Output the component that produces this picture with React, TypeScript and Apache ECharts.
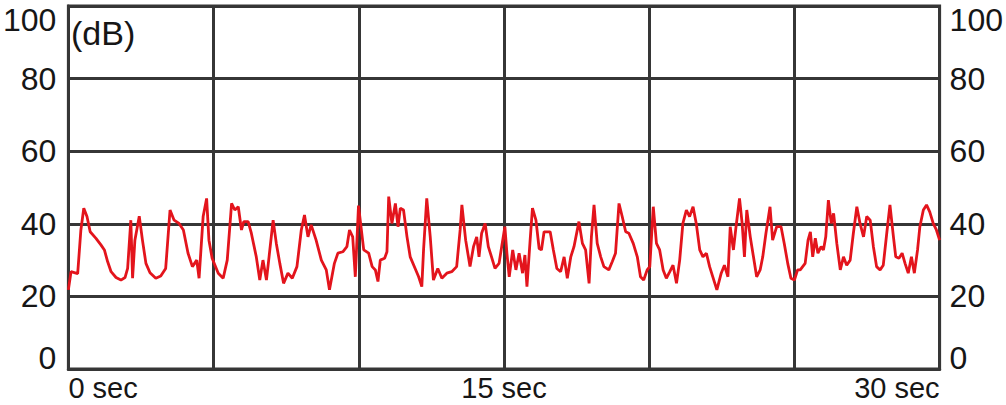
import React, { useEffect, useRef } from "react";
import * as echarts from "echarts";

const timeSec: number[] = [
  0, 0.09, 0.32, 0.43, 0.53, 0.64, 0.75, 0.95, 1.12, 1.24, 1.35, 1.47, 1.64, 1.81, 1.95, 2.04, 2.15, 2.21, 2.29, 2.44,
  2.55, 2.67, 2.81, 3.01, 3.18, 3.35, 3.5, 3.64, 3.81, 3.96, 4.12, 4.27, 4.42, 4.5, 4.64, 4.76, 4.84, 4.95, 5.16, 5.33,
  5.47, 5.62, 5.73, 5.85, 5.96, 6.04, 6.19, 6.3, 6.47, 6.59, 6.7, 6.82, 6.91, 7.05, 7.16, 7.28, 7.41, 7.56, 7.71, 7.87,
  8.02, 8.13, 8.25, 8.36, 8.53, 8.71, 8.88, 8.99, 9.16, 9.28, 9.45, 9.59, 9.68, 9.79, 9.88, 9.99, 10.17, 10.34, 10.46, 10.57,
  10.66, 10.74, 10.89, 10.97, 11.03, 11.14, 11.26, 11.35, 11.43, 11.54, 11.6, 11.66, 11.77, 11.94, 12.06, 12.17, 12.23, 12.34, 12.46, 12.57,
  12.72, 12.86, 13.03, 13.2, 13.37, 13.49, 13.55, 13.68, 13.83, 13.95, 14.06, 14.14, 14.23, 14.35, 14.46, 14.57, 14.69, 14.83, 14.92, 15.03,
  15.1, 15.18, 15.3, 15.41, 15.52, 15.64, 15.72, 15.79, 15.9, 15.98, 16.1, 16.21, 16.29, 16.38, 16.59, 16.7, 16.82, 16.95, 17.07, 17.18,
  17.3, 17.41, 17.58, 17.7, 17.81, 17.93, 18.01, 18.1, 18.21, 18.33, 18.44, 18.61, 18.73, 18.84, 18.96, 19.07, 19.19, 19.3, 19.45, 19.59,
  19.7, 19.81, 19.93, 20.02, 20.14, 20.25, 20.36, 20.48, 20.59, 20.71, 20.82, 20.94, 21.05, 21.16, 21.28, 21.39, 21.51, 21.62, 21.74, 21.85,
  21.97, 22.08, 22.19, 22.33, 22.48, 22.59, 22.71, 22.79, 22.9, 22.99, 23.11, 23.2, 23.28, 23.36, 23.48, 23.59, 23.7, 23.82, 23.91, 24.02,
  24.16, 24.25, 24.39, 24.54, 24.65, 24.77, 24.88, 25.0, 25.11, 25.2, 25.37, 25.47, 25.55, 25.63, 25.72, 25.81, 25.92, 26.0, 26.08, 26.17,
  26.27, 26.35, 26.46, 26.58, 26.69, 26.8, 26.92, 27.03, 27.15, 27.26, 27.38, 27.49, 27.61, 27.72, 27.83, 27.95, 28.06, 28.18, 28.29, 28.41,
  28.49, 28.6, 28.71, 28.81, 28.92, 29.03, 29.13, 29.24, 29.32, 29.44, 29.55, 29.66, 29.78, 29.89, 30.0,
];

const levelDb: number[] = [
  21.8, 26.8, 26.3, 38.3, 44.3, 42, 37.8, 36, 34.2, 32.8, 29.6, 26.8, 25.2, 24.5, 25.2, 27.7, 41, 25, 35.5, 42.1,
  35.5, 29.1, 26.5, 25, 25.6, 27.7, 43.8, 41, 40.1, 38.3, 31.9, 28.2, 30, 25, 42, 47, 35.5, 30.5, 26.4, 25,
  30, 45.6, 43.8, 44.7, 38.3, 40.6, 40.6, 37.4, 30.9, 24.5, 30, 24.5, 30.9, 41, 34.6, 29.1, 23.6, 26.4, 25, 28.2,
  38.3, 42.4, 36.4, 39.7, 35.5, 30, 27.3, 21.8, 29.1, 31.9, 32.3, 33.7, 38.3, 36.4, 25.4, 45, 32.8, 31.9, 28.2, 27.3,
  24.1, 30, 30.5, 32.3, 47.5, 40.1, 45.6, 39.2, 44.3, 43.8, 40.1, 36.4, 30.9, 27.7, 25.4, 22.7, 32.8, 47, 36.4, 24.5,
  27.7, 25, 26.4, 26.8, 28.2, 38.3, 45.2, 35.5, 28.2, 33.7, 36.4, 30.9, 37.4, 40.1, 33.7, 30.9, 27.7, 29.1, 33.7, 39.2,
  31.9, 25.4, 32.8, 27.3, 31.9, 26.4, 31.4, 22.7, 35.5, 44.3, 41, 33.2, 32.8, 37.8, 37.8, 32.8, 27.7, 26.8, 30.9, 25,
  30.9, 33.7, 40.6, 34.6, 32.8, 23.6, 36.4, 45.2, 34.6, 30.9, 28.2, 27.3, 29.6, 31.9, 45.6, 42, 37.8, 37.4, 34.6, 30.9,
  25.4, 24.5, 27.3, 28.2, 44.7, 34.6, 32.8, 27.3, 25, 26.8, 28.6, 23.6, 30, 40.1, 43.8, 42, 44.7, 40.1, 32.8, 30.9,
  31.9, 28.2, 25.4, 21.8, 26.4, 28.6, 25.4, 39.2, 32.8, 39.2, 47, 40.1, 30.9, 43.8, 36.4, 30.9, 25.4, 27.3, 30.9, 37.4,
  44.7, 35.5, 39.2, 39.2, 34.6, 29.1, 25, 24.5, 27.3, 27.3, 29.1, 35.5, 37.8, 30.9, 36, 31.9, 33.7, 32.8, 36.4, 46.5,
  40.1, 42.9, 34.6, 27.3, 30.9, 28.6, 30, 37.4, 44.7, 40.1, 36.4, 42, 41, 33.7, 28.2, 27.3, 28.6, 37.4, 45.2, 36.4,
  30.9, 30.5, 31.9, 29.1, 26.4, 30.9, 26.4, 32.8, 39.2, 43.8, 45.2, 43.3, 40.1, 38.3, 35.5,
];

const xLabelTicks: number[] = [0, 15, 30];
const xUnit = "sec";
const yUnitLabel = "(dB)";

const FONT = "'Liberation Sans', Arial, Helvetica, sans-serif";
const TEXT_COLOR = "#161616";
const GRID_COLOR = "#363636";

export default function App() {
  const ref = useRef<HTMLDivElement>(null);

  useEffect(() => {
    document.body.style.margin = "0";
    if (!ref.current) return;
    const chart = echarts.init(ref.current, undefined, { renderer: "svg" });

    const yFormatter = (v: number) => {
      if (v === 100) return "{t|100}";
      if (v === 0) return "{b|0}";
      return "{n|" + v + "}";
    };
    const rich = {
      t: { fontSize: 32, fontFamily: FONT, color: TEXT_COLOR, padding: [28, 0, 0, 0] },
      b: { fontSize: 32, fontFamily: FONT, color: TEXT_COLOR, padding: [0, 0, 22, 0] },
      n: { fontSize: 32, fontFamily: FONT, color: TEXT_COLOR },
    };

    chart.setOption({
      animation: false,
      grid: {
        left: 66,
        right: 66,
        top: 6,
        bottom: 36,
        show: true,
        borderColor: GRID_COLOR,
        borderWidth: 3,
        backgroundColor: "#ffffff",
      },
      graphic: [
        {
          type: "text",
          left: 71,
          top: 16,
          style: { text: yUnitLabel, fontSize: 34, fontFamily: FONT, fill: TEXT_COLOR },
        },
      ],
      xAxis: {
        type: "value",
        min: 0,
        max: 30,
        interval: 5,
        axisLine: { show: true, lineStyle: { color: GRID_COLOR, width: 3 } },
        axisTick: { show: false },
        splitLine: { show: true, lineStyle: { color: GRID_COLOR, width: 3 } },
        axisLabel: {
          margin: 4,
          fontSize: 29,
          lineHeight: 29,
          fontFamily: FONT,
          color: TEXT_COLOR,
          alignMinLabel: "left",
          alignMaxLabel: "right",
          formatter: (v: number) => (xLabelTicks.indexOf(v) >= 0 ? v + " " + xUnit : ""),
        },
      },
      yAxis: [
        {
          type: "value",
          position: "left",
          min: 0,
          max: 100,
          interval: 20,
          axisLine: { show: true, lineStyle: { color: GRID_COLOR, width: 3 } },
          axisTick: { show: false },
          splitLine: { show: true, lineStyle: { color: GRID_COLOR, width: 3 } },
          axisLabel: { margin: 12, formatter: yFormatter, rich },
        },
        {
          type: "value",
          position: "right",
          min: 0,
          max: 100,
          interval: 20,
          axisLine: { show: false },
          axisTick: { show: false },
          splitLine: { show: false },
          axisLabel: { margin: 10, formatter: yFormatter, rich },
        },
      ],
      series: [
        {
          type: "line",
          showSymbol: false,
          symbol: "none",
          data: timeSec.map((t, i) => [t, levelDb[i]]),
          lineStyle: { color: "#e3141c", width: 2.8 },
          z: 5,
        },
      ],
    });

    return () => chart.dispose();
  }, []);

  return <div ref={ref} style={{ width: 1006, height: 405 }} />;
}
